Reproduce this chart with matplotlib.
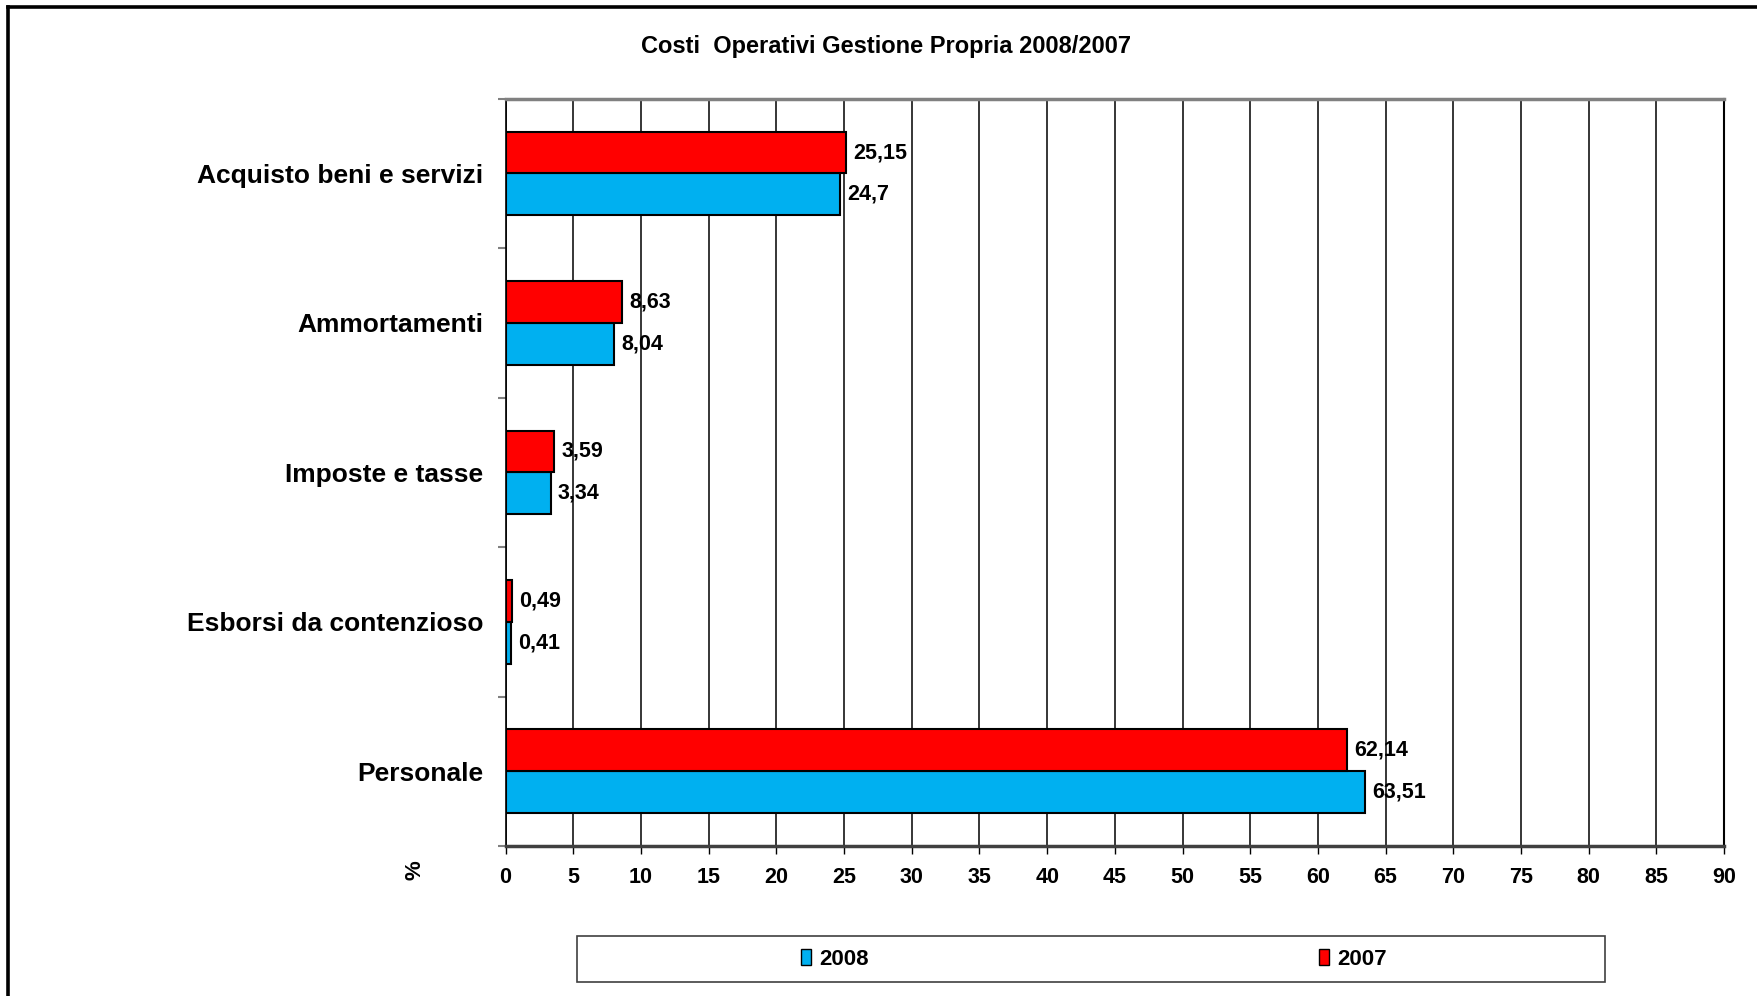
import matplotlib.pyplot as plt
from matplotlib.patches import Patch, Rectangle
from matplotlib.lines import Line2D

plt.rcParams['font.family'] = ['Liberation Sans', 'DejaVu Sans']
plt.rcParams['font.weight'] = 'bold'

# Data (top to bottom in the chart)
categories = ['Acquisto beni e servizi', 'Ammortamenti', 'Imposte e tasse',
              'Esborsi da contenzioso', 'Personale']
val_2008 = [24.7, 8.04, 3.34, 0.41, 63.51]
val_2007 = [25.15, 8.63, 3.59, 0.49, 62.14]
x_ticks = list(range(0, 95, 5))

col_2008 = '#00B0F0'
col_2007 = '#FF0000'

fig = plt.figure(figsize=(17.58, 9.96), dpi=100)
ax = fig.add_axes([0.2876, 0.1506, 0.6931, 0.7503])

# bottom-to-top positions
n = len(categories)
ypos = [n - 1 - i for i in range(n)]
h = 0.28

ax.barh([y - h / 2 for y in ypos], val_2008, height=h, color=col_2008,
        edgecolor='black', linewidth=1.5, zorder=3, label='2008')
ax.barh([y + h / 2 for y in ypos], val_2007, height=h, color=col_2007,
        edgecolor='black', linewidth=1.5, zorder=3, label='2007')

def fmt(v):
    return ('%g' % v).replace('.', ',')

for y, v in zip(ypos, val_2008):
    ax.annotate(fmt(v), (v, y - h / 2), xytext=(5, 0), textcoords='offset points',
                ha='left', va='center', fontsize=15.5, fontweight='bold', zorder=4)
for y, v in zip(ypos, val_2007):
    ax.annotate(fmt(v), (v, y + h / 2), xytext=(5, 0), textcoords='offset points',
                ha='left', va='center', fontsize=15.5, fontweight='bold', zorder=4)

ax.set_xlim(0, 90)
ax.set_ylim(-0.5, n - 0.5)
ax.set_xticks(x_ticks)
ax.set_xticklabels([str(t) for t in x_ticks], fontsize=15.5, fontweight='bold')
ax.tick_params(axis='x', direction='out', length=6, width=1, pad=9, color='black')

ax.set_yticks(ypos)
ax.set_yticklabels(categories, fontsize=19, fontweight='bold')
ax.tick_params(axis='y', which='major', length=0, pad=16)
ax.set_yticks([i - 0.5 for i in range(n + 1)], minor=True)
ax.tick_params(axis='y', which='minor', direction='out', length=6, width=1.5, color='#808080')

ax.xaxis.grid(True, color='black', linewidth=1.1, zorder=0)
ax.set_axisbelow(True)

ax.spines['top'].set_color('#808080')
ax.spines['top'].set_linewidth(2.5)
ax.spines['bottom'].set_color('#404040')
ax.spines['bottom'].set_linewidth(2.5)
ax.spines['left'].set_color('black')
ax.spines['left'].set_linewidth(1.2)
ax.spines['right'].set_color('black')
ax.spines['right'].set_linewidth(1.5)

fig.text(0.504, 0.953, 'Costi  Operativi Gestione Propria 2008/2007',
         ha='center', va='center', fontsize=17, fontweight='bold')
fig.text(0.236, 0.126, '%', ha='center', va='center', rotation=90,
         fontsize=16, fontweight='bold')

# legend box
fig.add_artist(Rectangle((0.3282, 0.014), 0.5848, 0.046, transform=fig.transFigure,
                         facecolor='white', edgecolor='#404040', linewidth=1.2))
handles = [Patch(facecolor=col_2008, edgecolor='black', linewidth=1),
           Patch(facecolor=col_2007, edgecolor='black', linewidth=1)]
fig.legend(handles, ['2008', '2007'], loc='center', bbox_to_anchor=(0.6223, 0.037),
           ncol=2, frameon=False, handlelength=0.45, handleheight=0.7,
           handletextpad=0.35, columnspacing=20.3, prop={'weight': 'bold', 'size': 16})

# outer frame (top and left edges)
fig.add_artist(Line2D([0.0046, 0.0046], [0, 0.993], transform=fig.transFigure,
                      color='black', linewidth=2.6))
fig.add_artist(Line2D([0.0046, 1.0], [0.993, 0.993], transform=fig.transFigure,
                      color='black', linewidth=2.6))

fig.savefig('out.png', dpi=100)
